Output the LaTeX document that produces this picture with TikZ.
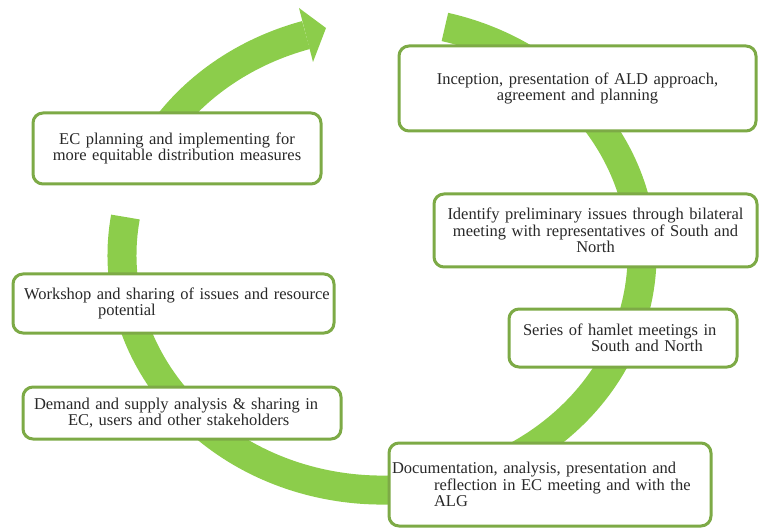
\documentclass[tikz,border=0pt]{standalone}
\usepackage{fontspec}
\setmainfont{Liberation Serif}
\definecolor{bandgreen}{RGB}{140,205,75}
\definecolor{boxgreen}{RGB}{125,170,70}
\definecolor{textgray}{RGB}{40,40,40}
\begin{document}
\begin{tikzpicture}[x=1pt,y=1pt,
  box/.style={draw=boxgreen, line width=3pt, rounded corners=10pt, fill=white,
    inner xsep=0pt, inner ysep=0pt, text=textgray,
    font=\fontsize{16.5}{16.5}\selectfont},
  band/.style={draw=bandgreen, line width=29pt}]
\useasboundingbox (0,0) rectangle (760,-529);
% green cycle band (ellipse centred at 382,-255)
\coordinate (ctr) at (382,-255);
\draw[band] (ctr) ++(76:260 and 235) arc[start angle=76, end angle=-189.3, x radius=260, y radius=235];
\draw[band] (ctr) ++(155:260 and 230) arc[start angle=155, end angle=107, x radius=260, y radius=230];
\coordinate (headA) at (299,-8);
\coordinate (headTip) at (326,-28);
\coordinate (headB) at (313,-62);
\fill[bandgreen] (headA) -- (headTip) -- (headB) -- cycle;
% boxes
\node[box, text width=357pt, minimum height=85pt, align=center] (inception) at (577.5,-88.5)
  {Inception, presentation of ALD approach,\\ agreement and planning};
\node[box, text width=323pt, minimum height=73pt, align=center] (identify) at (595.5,-230.5)
  {Identify preliminary issues through bilateral\\ meeting with representatives of South and\\ North};
\node[box, text width=228pt, minimum height=58pt, align=left] (series) at (623,-338)
  {\hspace*{14pt}Series of hamlet meetings in\\ \hspace*{82pt}South and North};
\node[box, text width=322pt, minimum height=83pt, align=left] (docu) at (550,-484.5)
  {\hspace*{3pt}Documentation, analysis, presentation and\\ \hspace*{45pt}reflection in EC meeting and with the\\ \hspace*{45pt}ALG};
\node[box, text width=318pt, minimum height=52pt, align=left] (demand) at (182,-413)
  {\hspace*{11pt}Demand and supply analysis \& sharing in\\ \hspace*{45pt}EC, users and other stakeholders};
\node[box, text width=321pt, minimum height=59pt, align=left, font=\fontsize{16.5}{14.5}\selectfont] (workshop) at (173.5,-303.5)
  {\hspace*{11pt}Workshop and sharing of issues and resource\\ \hspace*{85pt}potential};
\node[box, text width=288pt, minimum height=71pt, align=center] (ecplan) at (177,-148.5)
  {EC planning and implementing for\\ more equitable distribution measures};
\end{tikzpicture}
\end{document}
